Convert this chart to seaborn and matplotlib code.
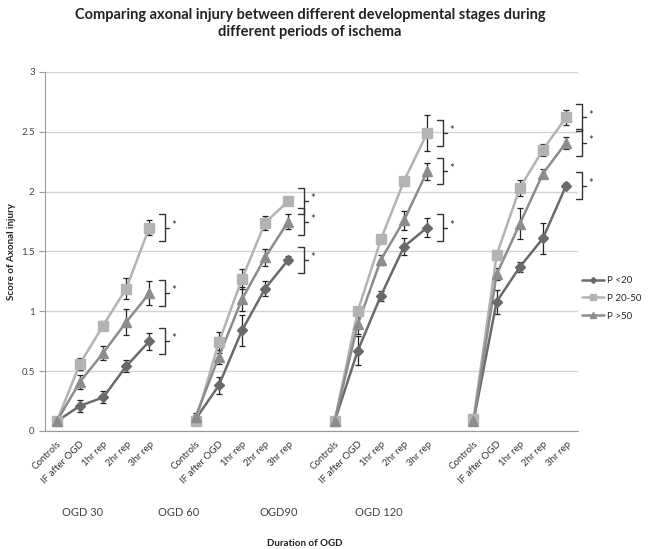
import numpy as np
import pandas as pd
import seaborn as sns
import matplotlib.pyplot as plt
from matplotlib.lines import Line2D

# Data
steps = ['Controls', 'IF after OGD', '1hr rep', '2hr rep', '3hr rep']
groups = ['OGD 30', 'OGD 60', 'OGD90', 'OGD 120']
series = ['P <20', 'P 20-50', 'P >50']

p_lt20 = [0.08, 0.21, 0.28, 0.54, 0.75,
          0.10, 0.38, 0.84, 1.19, 1.43,
          0.08, 0.67, 1.13, 1.54, 1.70,
          0.08, 1.08, 1.37, 1.61, 2.05]
p_lt20_err = [0.02, 0.05, 0.05, 0.05, 0.07,
              0.03, 0.07, 0.13, 0.06, 0.03,
              0.02, 0.12, 0.04, 0.07, 0.08,
              0.02, 0.10, 0.04, 0.13, 0.02]
p_20_50 = [0.08, 0.56, 0.88, 1.19, 1.70,
           0.08, 0.74, 1.27, 1.74, 1.92,
           0.08, 1.00, 1.60, 2.09, 2.49,
           0.10, 1.47, 2.03, 2.35, 2.62]
p_20_50_err = [0.02, 0.05, 0.04, 0.09, 0.06,
               0.02, 0.09, 0.08, 0.06, 0.03,
               0.02, 0.03, 0.03, 0.02, 0.15,
               0.02, 0.03, 0.07, 0.05, 0.06]
p_gt50 = [0.08, 0.41, 0.65, 0.91, 1.15,
          0.12, 0.62, 1.10, 1.45, 1.75,
          0.08, 0.89, 1.43, 1.76, 2.17,
          0.08, 1.31, 1.73, 2.15, 2.41]
p_gt50_err = [0.02, 0.06, 0.06, 0.11, 0.10,
              0.03, 0.06, 0.10, 0.07, 0.06,
              0.02, 0.08, 0.04, 0.08, 0.07,
              0.02, 0.05, 0.13, 0.04, 0.05]

colors = {'P <20': '#6a6a6a', 'P 20-50': '#b3b3b3', 'P >50': '#8c8c8c'}
markers = {'P <20': 'D', 'P 20-50': 's', 'P >50': '^'}
msizes = {'P <20': 5, 'P 20-50': 7, 'P >50': 7}

# build long table, one empty slot between groups
rows = []
for name, vals, errs in [('P <20', p_lt20, p_lt20_err),
                         ('P 20-50', p_20_50, p_20_50_err),
                         ('P >50', p_gt50, p_gt50_err)]:
    for i, (v, e) in enumerate(zip(vals, errs)):
        g, s = divmod(i, len(steps))
        rows.append({'series': name, 'group': groups[g], 'step': steps[s],
                     'pos': g * (len(steps) + 1) + s, 'score': v, 'err': e})
df = pd.DataFrame(rows)

sns.set_style('white')
plt.rcParams['font.family'] = ['Lato', 'DejaVu Sans']

fig = plt.figure(figsize=(6.64, 5.49), dpi=100)
ax = fig.add_axes([0.068, 0.215, 0.802, 0.654])

for name in series:
    sub = df[df['series'] == name]
    ax.errorbar(sub['pos'], sub['score'], yerr=sub['err'], fmt='none',
                ecolor='#222222', elinewidth=0.9, capsize=2, capthick=0.9, zorder=2)

sns.lineplot(data=df, x='pos', y='score', hue='series', units='group', estimator=None,
             palette=colors, sort=True, linewidth=1.8, legend=False, ax=ax, zorder=3)
for name in series:
    sub = df[df['series'] == name]
    ax.plot(sub['pos'], sub['score'], ls='none', marker=markers[name], ms=msizes[name],
            color=colors[name], zorder=4)

# significance brackets next to each 3hr rep point
last = df[df['step'] == '3hr rep']
for _, r in last.iterrows():
    x0 = r['pos'] + 0.43
    x1 = r['pos'] + 0.67
    x2 = r['pos'] + 0.85
    lo, hi = r['score'] - 0.11, r['score'] + 0.11
    ax.plot([x0, x1, x1, x0], [hi, hi, lo, lo], color='#333333', lw=1.0, clip_on=False)
    ax.plot([x1, x2], [r['score'], r['score']], color='#333333', lw=1.0, clip_on=False)
    ax.text(x2 + 0.1, r['score'] + 0.02, '*', fontsize=8, va='center', ha='left',
            color='#333333', clip_on=False)

n_slots = len(groups) * (len(steps) + 1) - 1
ax.set_xlim(-0.5, n_slots - 0.5)
ax.set_ylim(0, 3)
ax.set_yticks(np.arange(0, 3.01, 0.5))
ax.set_yticklabels(['0', '0.5', '1', '1.5', '2', '2.5', '3'], fontsize=7, color='#444444')
ax.yaxis.grid(True, color='#d4d4d4', lw=1)
ax.set_axisbelow(True)

centers = df[df['series'] == 'P <20']
ax.set_xticks(centers['pos'])
ax.set_xticklabels(centers['step'], rotation=45, ha='right', rotation_mode='anchor',
                   fontsize=7, color='#333333')
ax.set_xticks(np.arange(-0.5, n_slots, 1.0), minor=True)
ax.tick_params(axis='x', which='major', length=0, pad=6)
ax.tick_params(axis='x', which='minor', length=4, color='#999999', direction='out')
ax.tick_params(axis='y', length=4, color='#999999', direction='out', left=True)

for side in ['top', 'right']:
    ax.spines[side].set_visible(False)
for side in ['left', 'bottom']:
    ax.spines[side].set_color('#999999')
ax.set_xlabel('')
ax.set_ylabel('Score of Axonal injury', fontsize=7, fontweight='bold', color='#222222')

# group labels under the axis
for gx, g in zip([83, 179, 279, 379], groups):
    fig.text(gx / 664, 1 - 512 / 549, g, fontsize=8, ha='center', va='center',
             color='#444444')
fig.text(305 / 664, 1 - 543 / 549, 'Duration of OGD', fontsize=7, fontweight='bold',
         ha='center', va='center', color='#222222')

fig.text(310 / 664, 1 - 8 / 549,
         'Comparing axonal injury between different developmental stages during\n'
         'different periods of ischema', ha='center', va='top', fontsize=10.5,
         fontweight='bold', color='#222222', linespacing=1.3)

handles = [Line2D([], [], color=colors[n], marker=markers[n], ms=msizes[n] - 2, lw=1.8)
           for n in series]
fig.legend(handles, series, loc='upper left', bbox_to_anchor=(0.877, 0.497),
           frameon=False, fontsize=7, handlelength=2.2, labelspacing=0.9,
           handletextpad=0.3, borderpad=0, borderaxespad=0)

fig.savefig('out.png', dpi=100)
